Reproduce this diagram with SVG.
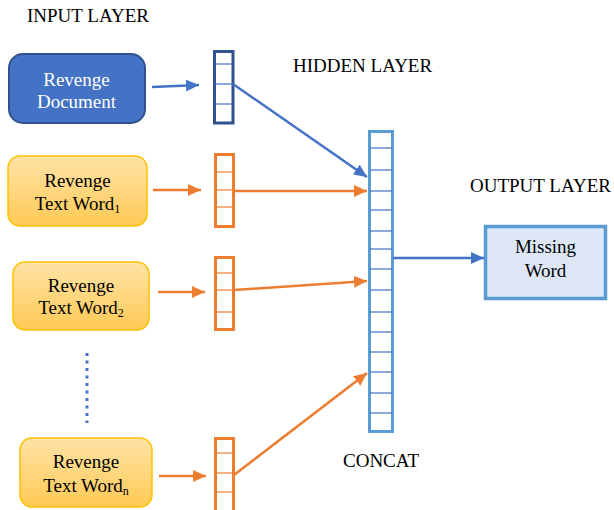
<svg xmlns="http://www.w3.org/2000/svg" width="614" height="510" viewBox="0 0 614 510">
<defs>
<linearGradient id="og" x1="0" y1="0" x2="0" y2="1">
<stop offset="0" stop-color="#FFE3A6"/>
<stop offset="1" stop-color="#FFCA55"/>
</linearGradient>
<marker id="ab" markerUnits="userSpaceOnUse" markerWidth="14" markerHeight="12" refX="13" refY="6" orient="auto"><path d="M0,0 L13,6 L0,12 z" fill="#4472C4"/></marker>
<marker id="ao" markerUnits="userSpaceOnUse" markerWidth="14" markerHeight="12" refX="13" refY="6" orient="auto"><path d="M0,0 L13,6 L0,12 z" fill="#ED7D31"/></marker>
</defs>
<style>
text{font-family:"Liberation Serif","Times New Roman",serif;font-size:19px;fill:#000}
.c{text-anchor:middle}
.w{fill:#fff}
.ob{fill:url(#og);stroke:#FFC000;stroke-width:1.5}
.ov{fill:#fff;stroke:#ED7D31;stroke-width:3}
.od{stroke:#ED7D31;stroke-width:1.2}
.bl{stroke:#4472C4;stroke-width:2.5;fill:none}
.ol{stroke:#ED7D31;stroke-width:2.5;fill:none}
.sub{font-size:12px}
</style>
<text x="27" y="22">INPUT LAYER</text>
<text x="293" y="72">HIDDEN LAYER</text>
<text x="470" y="192">OUTPUT LAYER</text>
<text x="343" y="467">CONCAT</text>

<g id="doc">
<rect x="9" y="54" width="136" height="69" rx="14" fill="#4472C4" stroke="#2F528F" stroke-width="2"/>
<text class="c w" x="76.5" y="86">Revenge</text>
<text class="c w" x="76.5" y="108">Document</text>
</g>
<g id="word1">
<rect class="ob" x="8" y="156" width="139" height="70" rx="12"/>
<text class="c" x="77.5" y="187">Revenge</text>
<text class="c" x="77.5" y="210">Text Word<tspan class="sub" dy="3">1</tspan></text>
</g>
<g id="word2">
<rect class="ob" x="13" y="262" width="136" height="68" rx="12"/>
<text class="c" x="81" y="292">Revenge</text>
<text class="c" x="81" y="314">Text Word<tspan class="sub" dy="3">2</tspan></text>
</g>
<g id="wordn">
<rect class="ob" x="20" y="438" width="132" height="69" rx="12"/>
<text class="c" x="86" y="468">Revenge</text>
<text class="c" x="86" y="492">Text Word<tspan class="sub" dy="3">n</tspan></text>
</g>
<g id="dots">
<line x1="87" y1="353" x2="87" y2="423" stroke="#4472C4" stroke-width="3" stroke-dasharray="3,4.5"/>
</g>

<g id="vec1">
<rect x="214.5" y="51.5" width="18.5" height="71.5" fill="#fff" stroke="#2F528F" stroke-width="3"/>
<g stroke="#4472C4" stroke-width="1.2"><line x1="215" y1="64" x2="233" y2="64"/><line x1="215" y1="84" x2="233" y2="84"/><line x1="215" y1="104" x2="233" y2="104"/></g>
</g>
<g id="vec2">
<rect class="ov" x="215.5" y="154.5" width="18" height="72"/>
<line class="od" x1="216" y1="172" x2="233" y2="172"/><line class="od" x1="216" y1="190" x2="233" y2="190"/><line class="od" x1="216" y1="207" x2="233" y2="207"/>
</g>
<g id="vec3">
<rect class="ov" x="215.5" y="257.5" width="18" height="72"/>
<line class="od" x1="216" y1="273" x2="233" y2="273"/><line class="od" x1="216" y1="290" x2="233" y2="290"/><line class="od" x1="216" y1="312" x2="233" y2="312"/>
</g>
<g id="vecn">
<rect class="ov" x="215.5" y="438.5" width="18" height="75"/>
<line class="od" x1="216" y1="453" x2="233" y2="453"/><line class="od" x1="216" y1="473" x2="233" y2="473"/><line class="od" x1="216" y1="492" x2="233" y2="492"/>
</g>
<g id="concat">
<rect x="369.5" y="131.5" width="23" height="300" fill="#fff" stroke="#5B9BD5" stroke-width="3"/>
<g stroke="#4472C4" stroke-width="1.2">
<line x1="370" y1="148" x2="392" y2="148"/><line x1="370" y1="170" x2="392" y2="170"/><line x1="370" y1="191" x2="392" y2="191"/><line x1="370" y1="210" x2="392" y2="210"/><line x1="370" y1="231" x2="392" y2="231"/><line x1="370" y1="249" x2="392" y2="249"/><line x1="370" y1="269" x2="392" y2="269"/><line x1="370" y1="290" x2="392" y2="290"/><line x1="370" y1="312" x2="392" y2="312"/><line x1="370" y1="332" x2="392" y2="332"/><line x1="370" y1="352" x2="392" y2="352"/><line x1="370" y1="372" x2="392" y2="372"/><line x1="370" y1="393" x2="392" y2="393"/><line x1="370" y1="413" x2="392" y2="413"/>
</g>
</g>
<g id="missing">
<rect x="485.5" y="226.5" width="120" height="72" fill="#DCE6F4" stroke="#5B9BD5" stroke-width="3.5"/>
<text class="c" x="545.5" y="253">Missing</text>
<text class="c" x="545.5" y="277">Word</text>
</g>

<g id="connectors">
<line class="bl" x1="152" y1="87" x2="199" y2="85" marker-end="url(#ab)"/>
<line class="ol" x1="153" y1="190" x2="201" y2="190" marker-end="url(#ao)"/>
<line class="ol" x1="158" y1="292" x2="205" y2="292" marker-end="url(#ao)"/>
<line class="ol" x1="159" y1="476" x2="206" y2="476" marker-end="url(#ao)"/>
<line class="bl" x1="233" y1="84" x2="367" y2="177" marker-end="url(#ab)"/>
<line class="ol" x1="234" y1="191" x2="367" y2="191" marker-end="url(#ao)"/>
<line class="ol" x1="234" y1="290" x2="367" y2="281" marker-end="url(#ao)"/>
<line class="ol" x1="234" y1="475" x2="367" y2="373" marker-end="url(#ao)"/>
<line class="bl" x1="393" y1="258" x2="484" y2="258" marker-end="url(#ab)"/>
</g>
</svg>
